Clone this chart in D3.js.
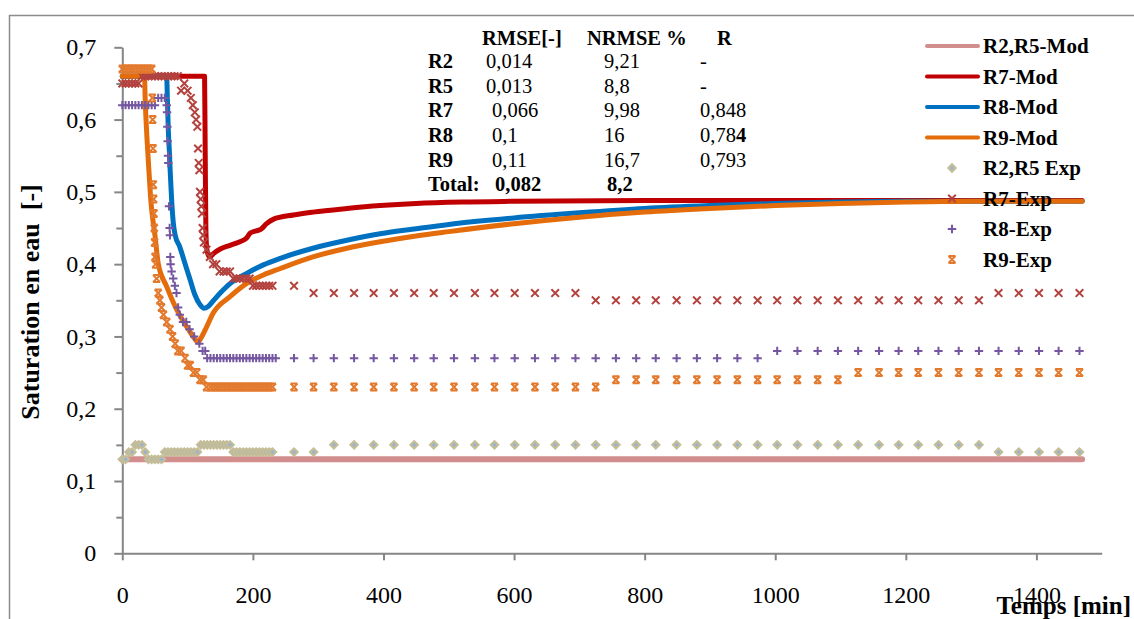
<!DOCTYPE html>
<html>
<head>
<meta charset="utf-8">
<script src="https://cdn.jsdelivr.net/npm/d3@7/dist/d3.min.js"></script>
<style>
    body { margin: 0; background: #fff; }
    svg { display: block; }
    svg text { font-family: 'Liberation Serif', 'Times New Roman', serif; }
</style>
</head>
<body>
<script>
// axis ticks
var xTicks = [0, 200, 400, 600, 800, 1000, 1200, 1400];
var yTicks = [0, 0.1, 0.2, 0.3, 0.4, 0.5, 0.6, 0.7];
var yMinor = [0.05, 0.15, 0.25, 0.35, 0.45, 0.55, 0.65];

// model curves [time min, saturation]
var r25Mod = [[0, 0.13], [1470, 0.13]];
var r7Mod = [[0, 0.66], [126, 0.66], [127, 0.55], [128, 0.45], [129, 0.425], [131, 0.414], [134, 0.41], [140, 0.415],
    [150, 0.421], [165, 0.426], [180, 0.431], [190, 0.436], [196, 0.443], [205, 0.446], [212, 0.448], [221, 0.456],
    [231, 0.462], [262, 0.468], [292, 0.472], [344, 0.477], [395, 0.481], [450, 0.484], [520, 0.486], [600, 0.487],
    [800, 0.488], [1470, 0.488]];
var r8Mod = [[0, 0.66], [68, 0.66], [69, 0.63], [70.5, 0.585], [72, 0.558], [73.5, 0.526], [75.5, 0.49], [78, 0.458],
    [81, 0.44], [88, 0.424], [96, 0.401], [104, 0.378], [111, 0.358], [119, 0.344], [125, 0.339], [131, 0.341],
    [139, 0.349], [150, 0.36], [165, 0.373], [190, 0.387], [216, 0.399], [242, 0.408], [292, 0.422], [344, 0.433],
    [395, 0.442], [450, 0.449], [500, 0.455], [600, 0.464], [700, 0.471], [800, 0.477], [900, 0.481], [1000, 0.484],
    [1100, 0.486], [1200, 0.487], [1470, 0.487]];
var r9Mod = [[0, 0.66], [34, 0.66], [35, 0.63], [38, 0.571], [41, 0.526], [44, 0.485], [47, 0.46], [50, 0.44],
    [55, 0.401], [68, 0.369], [84, 0.336], [99, 0.313], [110, 0.298], [116, 0.292], [120, 0.297], [129, 0.313],
    [139, 0.332], [165, 0.355], [190, 0.373], [216, 0.385], [242, 0.394], [292, 0.41], [344, 0.422], [395, 0.431],
    [450, 0.439], [500, 0.445], [600, 0.456], [700, 0.465], [800, 0.472], [900, 0.477], [1000, 0.481], [1100, 0.484],
    [1200, 0.486], [1300, 0.487], [1470, 0.487]];

// experimental points, dense part [time min, saturation]
var r25Dense = [[0, 0.13], [5, 0.13], [10, 0.14], [15, 0.14], [20, 0.15], [25, 0.15], [30, 0.15], [35, 0.14],
    [40, 0.13], [45, 0.13], [50, 0.13], [55, 0.13], [60, 0.13], [65, 0.14], [70, 0.14], [75, 0.14], [80, 0.14],
    [85, 0.14], [90, 0.14], [95, 0.14], [100, 0.14], [105, 0.14], [110, 0.14], [115, 0.14], [120, 0.15], [125, 0.15],
    [130, 0.15], [135, 0.15], [140, 0.15], [145, 0.15], [150, 0.15], [155, 0.15], [160, 0.15], [165, 0.15],
    [170, 0.14], [175, 0.14], [180, 0.14], [185, 0.14], [190, 0.14], [195, 0.14], [200, 0.14], [205, 0.14],
    [210, 0.14], [215, 0.14], [220, 0.14], [225, 0.14], [230, 0.14]];
var r7Dense = [[0, 0.65], [5, 0.65], [10, 0.65], [15, 0.65], [20, 0.65], [25, 0.65], [30, 0.66], [35, 0.66],
    [40, 0.66], [45, 0.66], [50, 0.66], [55, 0.66], [60, 0.66], [65, 0.66], [70, 0.66], [75, 0.66], [80, 0.66],
    [85, 0.66], [90, 0.64], [95, 0.65], [100, 0.64], [105, 0.63], [108, 0.62], [111, 0.61], [113, 0.6], [115, 0.59],
    [116, 0.56], [117, 0.54], [118, 0.53], [119, 0.5], [120, 0.49], [121, 0.48], [122, 0.47], [123, 0.45], [124, 0.44],
    [125, 0.43], [129, 0.42], [134, 0.41], [139, 0.4], [144, 0.4], [149, 0.39], [155, 0.39], [160, 0.39], [165, 0.39],
    [170, 0.38], [175, 0.38], [180, 0.38], [185, 0.38], [190, 0.38], [195, 0.38], [200, 0.37], [205, 0.37],
    [210, 0.37], [215, 0.37], [220, 0.37], [225, 0.37], [230, 0.37]];
var r8Dense = [[0, 0.62], [5, 0.62], [10, 0.62], [15, 0.62], [20, 0.62], [25, 0.62], [30, 0.62], [35, 0.62],
    [40, 0.62], [45, 0.62], [50, 0.62], [55, 0.63], [60, 0.63], [65, 0.63], [68, 0.62], [68.5, 0.61], [69, 0.59],
    [69.5, 0.57], [70, 0.55], [70.5, 0.54], [71.5, 0.48], [72.5, 0.45], [73, 0.44], [73.5, 0.41], [74, 0.4],
    [75.5, 0.39], [78, 0.38], [80.5, 0.37], [83, 0.36], [85.5, 0.34], [88, 0.33], [93, 0.32], [98, 0.32],
    [103, 0.31], [110, 0.3], [118, 0.29], [123, 0.28], [127, 0.28], [130, 0.27], [135, 0.27], [140, 0.27],
    [145, 0.27], [150, 0.27], [155, 0.27], [160, 0.27], [165, 0.27], [170, 0.27], [175, 0.27], [180, 0.27],
    [185, 0.27], [190, 0.27], [195, 0.27], [200, 0.27], [205, 0.27], [210, 0.27], [215, 0.27], [220, 0.27],
    [225, 0.27], [230, 0.27], [235, 0.27]];
var r9Dense = [[0, 0.67], [5, 0.67], [10, 0.67], [15, 0.67], [20, 0.67], [25, 0.67], [30, 0.67], [35, 0.67],
    [40, 0.67], [45, 0.67], [46, 0.63], [46.5, 0.6], [47, 0.56], [47.5, 0.51], [48, 0.49], [48.5, 0.47], [49, 0.45],
    [49.5, 0.43], [50, 0.41], [51, 0.4], [52.5, 0.38], [55, 0.36], [57.5, 0.35], [60, 0.34], [63, 0.33], [68, 0.32],
    [73, 0.31], [77, 0.3], [81, 0.29], [85, 0.28], [90, 0.28], [96, 0.27], [100, 0.26], [104, 0.26], [109, 0.25],
    [114, 0.25], [119, 0.24], [124, 0.24], [129, 0.23], [135, 0.23], [140, 0.23], [145, 0.23], [150, 0.23],
    [155, 0.23], [160, 0.23], [165, 0.23], [170, 0.23], [175, 0.23], [180, 0.23], [185, 0.23], [190, 0.23],
    [195, 0.23], [200, 0.23], [205, 0.23], [210, 0.23], [215, 0.23], [220, 0.23], [225, 0.23], [230, 0.23]];

// experimental points, sparse part (same times for every run)
var sparseTimes = [263, 293, 324, 355, 385, 416, 447, 477, 508, 540, 570, 601, 632, 663, 694, 725, 756, 787, 817,
    849, 880, 911, 942, 973, 1003, 1034, 1065, 1096, 1127, 1159, 1189, 1219, 1250, 1281, 1312, 1342, 1373, 1404,
    1434, 1466];
var r25Sparse = [0.14, 0.14, 0.15, 0.15, 0.15, 0.15, 0.15, 0.15, 0.15, 0.15, 0.15, 0.15, 0.15, 0.15, 0.15, 0.15,
    0.15, 0.15, 0.15, 0.15, 0.15, 0.15, 0.15, 0.15, 0.15, 0.15, 0.15, 0.15, 0.15, 0.15, 0.15, 0.15, 0.15, 0.15, 0.15,
    0.14, 0.14, 0.14, 0.14, 0.14];
var r7Sparse = [0.37, 0.36, 0.36, 0.36, 0.36, 0.36, 0.36, 0.36, 0.36, 0.36, 0.36, 0.36, 0.36, 0.36, 0.36, 0.35,
    0.35, 0.35, 0.35, 0.35, 0.35, 0.35, 0.35, 0.35, 0.35, 0.35, 0.35, 0.35, 0.35, 0.35, 0.35, 0.35, 0.35, 0.35, 0.35,
    0.36, 0.36, 0.36, 0.36, 0.36];
var r8Sparse = [0.27, 0.27, 0.27, 0.27, 0.27, 0.27, 0.27, 0.27, 0.27, 0.27, 0.27, 0.27, 0.27, 0.27, 0.27, 0.27,
    0.27, 0.27, 0.27, 0.27, 0.27, 0.27, 0.27, 0.27, 0.28, 0.28, 0.28, 0.28, 0.28, 0.28, 0.28, 0.28, 0.28, 0.28, 0.28,
    0.28, 0.28, 0.28, 0.28, 0.28];
var r9Sparse = [0.23, 0.23, 0.23, 0.23, 0.23, 0.23, 0.23, 0.23, 0.23, 0.23, 0.23, 0.23, 0.23, 0.23, 0.23, 0.23,
    0.24, 0.24, 0.24, 0.24, 0.24, 0.24, 0.24, 0.24, 0.24, 0.24, 0.24, 0.24, 0.25, 0.25, 0.25, 0.25, 0.25, 0.25, 0.25,
    0.25, 0.25, 0.25, 0.25, 0.25];

// legend + error table
var legendLabels = ['R2,R5-Mod', 'R7-Mod', 'R8-Mod', 'R9-Mod', 'R2,R5 Exp', 'R7-Exp', 'R8-Exp', 'R9-Exp'];
var tableHead = ['RMSE[-]', 'NRMSE %', 'R'];
var tableRuns = ['R2', 'R5', 'R7', 'R8', 'R9'];
var tableRmse = ['0,014', '0,013', '0,066', '0,1', '0,11'];
var tableNrmse = ['9,21', '8,8', '9,98', '16', '16,7'];
var tableR = ['-', '-', '0,848', '0,78', '0,793'];

var serif = "'Liberation Serif', 'Times New Roman', serif";

var svg = d3.select('body').append('svg')
    .attr('width', 1134)
    .attr('height', 619)
    .attr('font-family', serif);

//outer frame
svg.append('rect')
    .attr('x', 9.5).attr('y', 15.5)
    .attr('width', 1200).attr('height', 700)
    .attr('fill', 'none')
    .attr('stroke', '#8c8c8c')
    .attr('stroke-width', 1.5);

//scales
var xscale = d3.scaleLinear().domain([0, 1500]).range([122.3, 1101.7]);
var yscale = d3.scaleLinear().domain([0, 0.7]).range([553.3, 47.3]);
var comma = function (d) { return d === 0 ? '0' : d3.format('.1f')(d).replace('.', ','); };

//y axis, minor ticks first
svg.append('g')
    .attr('transform', 'translate(122.3,0)')
    .call(d3.axisLeft(yscale).tickValues(yMinor).tickSize(6).tickFormat(''))
    .call(function (g) { g.select('.domain').remove(); });
svg.append('g')
    .attr('transform', 'translate(122.3,0)')
    .call(d3.axisLeft(yscale).tickValues(yTicks).tickSize(8).tickSizeOuter(0).tickPadding(18).tickFormat(comma));

//x axis
var xaxis = svg.append('g')
    .attr('transform', 'translate(0,553.3)')
    .call(d3.axisBottom(xscale).tickValues(xTicks).tickSize(7).tickSizeOuter(0).tickFormat(d3.format('d')));
xaxis.selectAll('text').attr('y', 50).attr('dy', 0);

svg.selectAll('.domain, .tick line')
    .attr('stroke', '#868686')
    .attr('stroke-width', 2);
svg.selectAll('g').attr('font-family', serif);
svg.selectAll('.tick text')
    .attr('font-family', serif)
    .attr('font-size', '24px')
    .attr('fill', '#000');

//axis titles
svg.append('text')
    .attr('transform', 'translate(39,302) rotate(-90)')
    .attr('text-anchor', 'middle')
    .attr('font-weight', 'bold')
    .attr('font-size', '26px')
    .attr('xml:space', 'preserve')
    .text('Saturation en eau  [-]');
svg.append('text')
    .attr('x', 1131).attr('y', 614)
    .attr('text-anchor', 'end')
    .attr('font-weight', 'bold')
    .attr('font-size', '25px')
    .text('Temps [min]');

//model lines
var line = d3.line()
    .x(function (d) { return xscale(d[0]); })
    .y(function (d) { return yscale(d[1]); })
    .curve(d3.curveMonotoneX);
var models = [
    { data: r25Mod, color: '#d28e8d', w: 6 },
    { data: r7Mod, color: '#c00000', w: 5 },
    { data: r8Mod, color: '#0070c0', w: 5 },
    { data: r9Mod, color: '#e46c0a', w: 5 }
];
svg.selectAll('path.model')
    .data(models)
    .enter().append('path')
        .attr('class', 'model')
        .attr('d', function (d) { return line(d.data); })
        .attr('fill', 'none')
        .attr('stroke', function (d) { return d.color; })
        .attr('stroke-width', function (d) { return d.w; })
        .attr('stroke-linejoin', 'round')
        .attr('stroke-linecap', 'round');

//marker shapes
var shapes = {
    diamond: 'M0,-3.6L3.6,0L0,3.6L-3.6,0Z',
    cross: 'M-3.8,-3.8L3.8,3.8M-3.8,3.8L3.8,-3.8',
    plus: 'M-4.2,0L4.2,0M0,-4.2L0,4.2',
    star: 'M-3.5,-3.5L3.5,3.5M-3.5,3.5L3.5,-3.5M-3.5,-3.5L3.5,-3.5M-3.5,3.5L3.5,3.5'
};
var exps = [
    { dense: r25Dense, sparse: r25Sparse, shape: 'diamond', color: '#c4bd97', fill: '#95b3d7', sw: 2.2 },
    { dense: r7Dense, sparse: r7Sparse, shape: 'cross', color: '#b3423e', fill: 'none', sw: 2 },
    { dense: r8Dense, sparse: r8Sparse, shape: 'plus', color: '#7457a0', fill: 'none', sw: 2 },
    { dense: r9Dense, sparse: r9Sparse, shape: 'star', color: '#e2792d', fill: 'none', sw: 2 }
];
exps.forEach(function (s) {
    var pts = s.dense.concat(sparseTimes.map(function (t, i) { return [t, s.sparse[i]]; }));
    svg.append('g').selectAll('path')
        .data(pts)
        .enter().append('path')
            .attr('transform', function (d) { return 'translate(' + xscale(d[0]) + ',' + yscale(d[1]) + ')'; })
            .attr('d', shapes[s.shape])
            .attr('fill', s.fill)
            .attr('stroke', s.color)
            .attr('stroke-width', s.sw);
});

//legend
var legend = svg.append('g');
legendLabels.forEach(function (lab, i) {
    var ly = 46 + i * 30.5;
    if (i < 4) {
        legend.append('line')
            .attr('x1', 927).attr('x2', 978)
            .attr('y1', ly).attr('y2', ly)
            .attr('stroke', models[i].color)
            .attr('stroke-width', 4)
            .attr('stroke-linecap', 'round');
    } else {
        var s = exps[i - 4];
        legend.append('path')
            .attr('transform', 'translate(952,' + ly + ')')
            .attr('d', shapes[s.shape])
            .attr('fill', s.fill)
            .attr('stroke', s.color)
            .attr('stroke-width', s.sw);
    }
    legend.append('text')
        .attr('x', 983).attr('y', ly + 7)
        .attr('font-size', '21px')
        .attr('font-weight', 'bold')
        .text(lab);
});

//error table
var table = svg.append('g').attr('font-size', '20.5px');
[482, 587, 717].forEach(function (tx, i) {
    table.append('text').attr('x', tx).attr('y', 45).attr('font-weight', 'bold').text(tableHead[i]);
});
tableRuns.forEach(function (run, i) {
    var ty = 68 + i * 24.7;
    table.append('text').attr('x', 428).attr('y', ty).attr('font-weight', 'bold').text(run);
    table.append('text').attr('x', i < 2 ? 486 : 492).attr('y', ty).text(tableRmse[i]);
    table.append('text').attr('x', 604).attr('y', ty).text(tableNrmse[i]);
    var r = table.append('text').attr('x', 700).attr('y', ty).text(tableR[i]);
    if (run === 'R8') r.append('tspan').attr('font-weight', 'bold').text('4');
});
var total = table.append('text').attr('x', 428).attr('y', 191).attr('font-weight', 'bold');
total.append('tspan').text('Total:');
total.append('tspan').attr('x', 495).text('0,082');
total.append('tspan').attr('x', 607).text('8,2');
</script>
</body>
</html>
